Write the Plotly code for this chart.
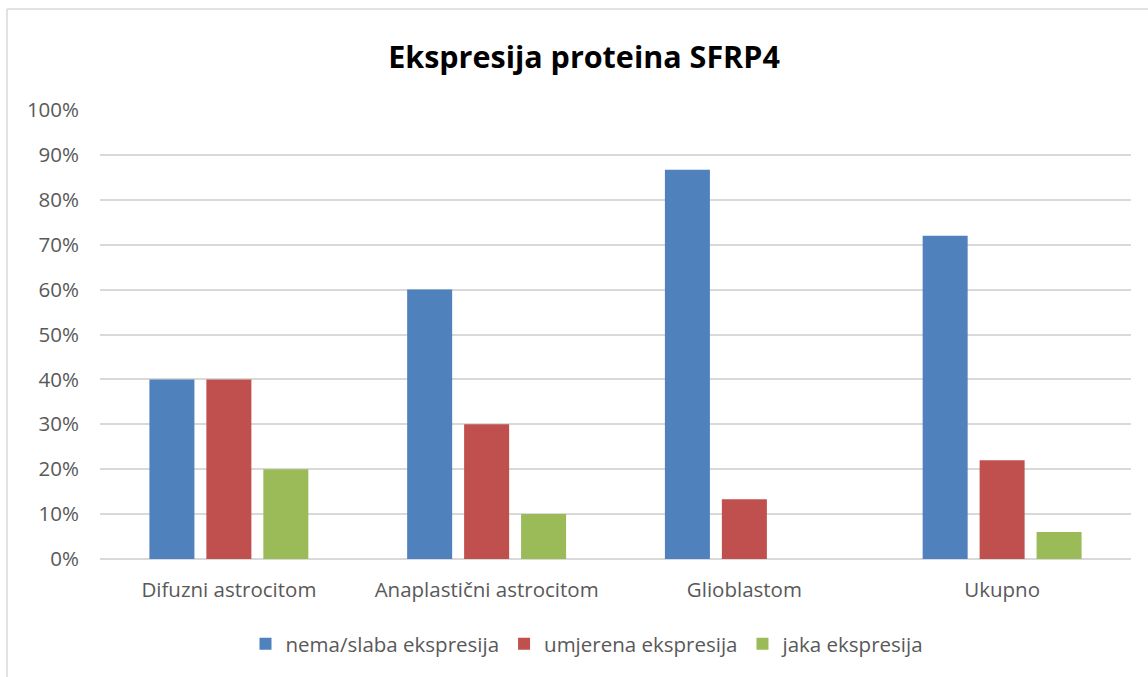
import plotly.graph_objects as go

categories = ["Difuzni astrocitom", "Anaplastični astrocitom", "Glioblastom", "Ukupno"]
series_names = ["nema/slaba ekspresija", "umjerena ekspresija", "jaka ekspresija"]
nema_slaba = [40, 60, 86.7, 72]
umjerena = [40, 30, 13.3, 22]
jaka = [20, 10, 0, 6]
tick_vals = [0, 10, 20, 30, 40, 50, 60, 70, 80, 90, 100]
tick_text = [f"{v}%" for v in tick_vals]

colors = ["#4F81BD", "#C0504D", "#9BBB59"]
values = [nema_slaba, umjerena, jaka]

FONT = "Open Sans"
FS = 20.5

fig = go.Figure()
for name, vals, col in zip(series_names, values, colors):
    fig.add_trace(go.Bar(x=categories, y=vals, name=name,
                         marker=dict(color=col, line=dict(width=0))))

W, H = 1148, 677
ml, mr, mt, mb = 100, 17, 110, 118
pw = W - ml - mr
ph = H - mt - mb

def px_x(px):
    return (px - ml) / pw

def px_y(py):
    return (H - mb - py) / ph

fig.update_layout(
    width=W, height=H,
    margin=dict(l=ml, r=mr, t=mt, b=mb, autoexpand=False),
    paper_bgcolor="white", plot_bgcolor="white",
    barmode="group", bargap=0.337, bargroupgap=0.21,
    title=dict(text="<b>Ekspresija proteina SFRP4</b>", x=584 / W, xanchor="center",
               y=1 - 57 / H, yanchor="middle",
               font=dict(family=FONT, size=30.5, color="#000000")),
    font=dict(family=FONT, size=FS, color="#595959"),
    legend=dict(orientation="h", x=px_x(588), xanchor="center", y=px_y(644), yanchor="middle",
                font=dict(family=FONT, size=FS, color="#595959"),
                itemwidth=30, traceorder="normal"),
    xaxis=dict(showgrid=False, showline=False, ticks="", ticklabelstandoff=16,
               tickfont=dict(size=FS, color="#595959")),
    yaxis=dict(range=[0, 100], tickvals=tick_vals, ticktext=tick_text,
               showgrid=True, gridcolor="#D9D9D9", gridwidth=1.5,
               zeroline=True, zerolinecolor="#D9D9D9", zerolinewidth=1.5,
               showline=False, ticks="", ticklabelstandoff=20,
               tickfont=dict(size=FS, color="#595959")),
    showlegend=True,
)

# chart border (top and left edges visible)
fig.add_shape(type="line", xref="paper", yref="paper",
              x0=px_x(7), x1=px_x(1160), y0=px_y(9), y1=px_y(9),
              line=dict(color="#D9D9D9", width=1.5))
fig.add_shape(type="line", xref="paper", yref="paper",
              x0=px_x(7), x1=px_x(7), y0=px_y(9), y1=px_y(690),
              line=dict(color="#D9D9D9", width=1.5))

fig.write_html("out.html", config={"displayModeBar": False},
               post_script="document.body.style.margin='0';")
